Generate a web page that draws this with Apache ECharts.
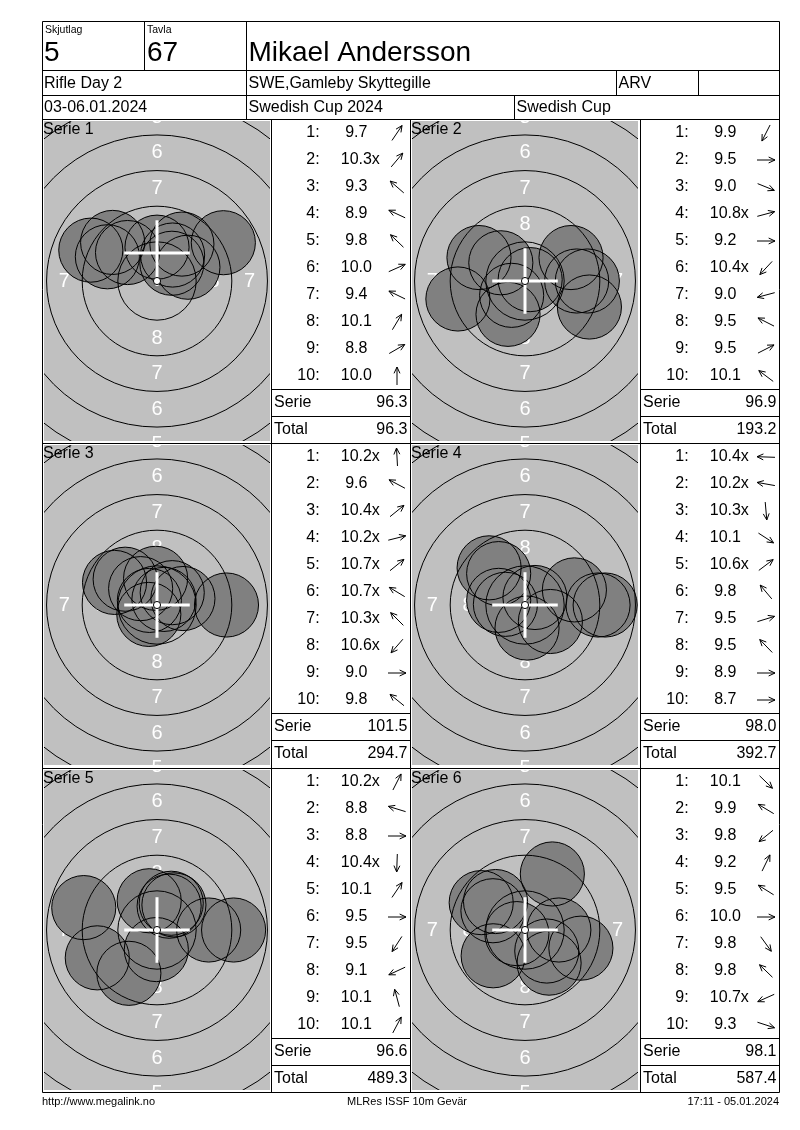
<!DOCTYPE html>
<html><head><meta charset="utf-8">
<script src="https://cdn.jsdelivr.net/npm/echarts@6/dist/echarts.min.js"></script>
<style>html,body{margin:0;padding:0;background:#fff}#c{width:800px;height:1130px}</style>
</head><body><div id="c"></div>
<script>
// ================= DATA =================
const serieNames = ['Serie 1', 'Serie 2', 'Serie 3', 'Serie 4', 'Serie 5', 'Serie 6'];
const shotNumbers = [1, 2, 3, 4, 5, 6, 7, 8, 9, 10];

const serie1Scores = [9.7, 10.3, 9.3, 8.9, 9.8, 10.0, 9.4, 10.1, 8.8, 10.0];
const serie1Inner  = [0, 1, 0, 0, 0, 0, 0, 0, 0, 0];
const serie1Angles = [56, 50, 139, 155, 136, 24, 154, 59, 30, 90];

const serie2Scores = [9.9, 9.5, 9.0, 10.8, 9.2, 10.4, 9.0, 9.5, 9.5, 10.1];
const serie2Inner  = [0, 0, 0, 1, 0, 1, 0, 0, 0, 0];
const serie2Angles = [243, 0, -22, 15, 0, 227, 195, 153, 27, 143];

const serie3Scores = [10.2, 9.6, 10.4, 10.2, 10.7, 10.7, 10.3, 10.6, 9.0, 9.8];
const serie3Inner  = [1, 0, 1, 1, 1, 1, 1, 1, 0, 0];
const serie3Angles = [93, 152, 39, 14, 39, 149, 135, 229, 0, 141];

const serie4Scores = [10.4, 10.2, 10.3, 10.1, 10.6, 9.8, 9.5, 9.5, 8.9, 8.7];
const serie4Inner  = [1, 1, 1, 0, 1, 0, 0, 0, 0, 0];
const serie4Angles = [178, 170, 275, 327, 37, 130, 17, 134, 0, 0];

const serie5Scores = [10.2, 8.8, 8.8, 10.4, 10.1, 9.5, 9.5, 9.1, 10.1, 10.1];
const serie5Inner  = [1, 0, 0, 1, 0, 0, 0, 0, 0, 0];
const serie5Angles = [63, 163, 0, 268, 56, 0, 237, 205, 105, 62];

const serie6Scores = [10.1, 9.9, 9.8, 9.2, 9.5, 10.0, 9.8, 9.8, 10.7, 9.3];
const serie6Inner  = [0, 0, 0, 0, 0, 0, 0, 0, 1, 0];
const serie6Angles = [316, 149, 219, 64, 148, 0, 306, 136, 204, 342];

const serieSums     = [96.3, 96.9, 101.5, 98.0, 96.6, 98.1];
const runningTotals = [96.3, 193.2, 294.7, 392.7, 489.3, 587.4];
const summaryLabels = ['Serie', 'Total'];
const crossOffsetsMm = [[0, 1.96], [0, 0], [0, 0], [0, 0], [0, 0], [0, 0]];
const ringValues = [9, 8, 7, 6, 5, 4];
const ringLabelValues = [8, 7, 6, 5];

const headerTexts = {
  squadLabel: 'Skjutlag', squad: '5', laneLabel: 'Tavla', lane: '67',
  name: 'Mikael Andersson', event: 'Rifle Day 2', club: 'SWE,Gamleby Skyttegille',
  cls: 'ARV', date: '03-06.01.2024', competition: 'Swedish Cup 2024', cup: 'Swedish Cup'
};
const footerTexts = ['http://www.megalink.no', 'MLRes ISSF 10m Gevär', '17:11 - 05.01.2024'];

const allScores = [serie1Scores, serie2Scores, serie3Scores, serie4Scores, serie5Scores, serie6Scores];
const allInner  = [serie1Inner, serie2Inner, serie3Inner, serie4Inner, serie5Inner, serie6Inner];
const allAngles = [serie1Angles, serie2Angles, serie3Angles, serie4Angles, serie5Angles, serie6Angles];

// ================= TARGET GEOMETRY (ISSF 10m air rifle, mm) =================
const TEN_RADIUS_MM = 0.25, RING_STEP_MM = 2.5, SHOT_RADIUS_MM = 2.25, CROSS_HALF_MM = 2.3;
function ringRadius(v) { return TEN_RADIUS_MM + (10 - v) * RING_STEP_MM; }
function shotDistance(score) { return (10.95 - score) * RING_STEP_MM; } // 0.1 point per 0.25 mm

// ================= LAYOUT =================
const FONT = '"Liberation Sans", Arial, Helvetica, sans-serif';
const PX_PER_MM = 14.25;
const ROW_TOP = [119.5, 443.5, 768.5];
const TARGET_LEFT = [44, 412];
const TABLE_LEFT = [272, 641];
const TARGET_W = 226, TARGET_H = 320, TABLE_W = 137, ROW_H = 27;
const COL_NUM_RIGHT = 47.6, COL_SCORE_CENTER = 84.3, COL_ARROW_CENTER = 125;
const ARROW_LEN = 18, HEAD_LEN = 7, HEAD_ANGLE = 25;

const measureCtx = document.createElement('canvas').getContext('2d');
function textWidth(t, font) { measureCtx.font = font; return measureCtx.measureText(t).width; }

const grid = [], xAxis = [], yAxis = [], series = [];
const TABLE_FONT = '16px ' + FONT;

function labelRender(params, api) {
  const v = api.value(2);
  const rr = ringRadius(v) - RING_STEP_MM / 2;
  const pts = [[0, rr], [0, -rr], [rr, 0], [-rr, 0]];
  return { type: 'group', children: pts.map(q => {
    const c = api.coord(q);
    return { type: 'text', x: c[0], y: c[1], style: { text: String(v), font: '20px ' + FONT, fill: '#ffffff', align: 'center', verticalAlign: 'middle' } };
  }) };
}
function shotFillRender(params, api) {
  const c = api.coord([api.value(0), api.value(1)]);
  const r = api.size([SHOT_RADIUS_MM, 0])[0];
  return { type: 'circle', shape: { cx: c[0], cy: c[1], r: r }, style: { fill: '#808080', stroke: 'none' } };
}
function shotLineRender(params, api) {
  const c = api.coord([api.value(0), api.value(1)]);
  const r = api.size([SHOT_RADIUS_MM, 0])[0];
  return { type: 'circle', shape: { cx: c[0], cy: c[1], r: r }, style: { fill: 'none', stroke: '#000', lineWidth: 1 } };
}
function ringRender(params, api) {
  const c = api.coord([0, 0]);
  const r = api.size([ringRadius(api.value(2)), 0])[0];
  return { type: 'circle', shape: { cx: c[0], cy: c[1], r: r }, style: { fill: 'none', stroke: '#000', lineWidth: 1 } };
}
function crossRender(params, api) {
  const c = api.coord([api.value(0), api.value(1)]);
  const L = api.size([CROSS_HALF_MM, 0])[0];
  const o = api.coord([0, 0]);
  const r10 = api.size([TEN_RADIUS_MM, 0])[0];
  return { type: 'group', children: [
    { type: 'line', shape: { x1: c[0] - L, y1: c[1], x2: c[0] + L, y2: c[1] }, style: { stroke: '#fff', lineWidth: 3 } },
    { type: 'line', shape: { x1: c[0], y1: c[1] - L, x2: c[0], y2: c[1] + L }, style: { stroke: '#fff', lineWidth: 3 } },
    { type: 'circle', shape: { cx: o[0], cy: o[1], r: r10 }, style: { fill: '#fff', stroke: '#000', lineWidth: 1 } }
  ] };
}
function tableRender(params, api) {
  const row = api.value(1), score = api.value(2), ang = api.value(3), inner = api.value(4);
  const pn = api.coord([COL_NUM_RIGHT, row]);
  const ps = api.coord([COL_SCORE_CENTER, row]);
  const pa = api.coord([COL_ARROW_CENTER, row]);
  const txt = score.toFixed(1);
  const children = [
    { type: 'text', x: pn[0], y: pn[1], style: { text: row + ':', font: TABLE_FONT, fill: '#000', align: 'right', verticalAlign: 'middle' } },
    { type: 'text', x: ps[0], y: ps[1], style: { text: txt, font: TABLE_FONT, fill: '#000', align: 'center', verticalAlign: 'middle' } }
  ];
  if (inner) {
    children.push({ type: 'text', x: ps[0] + textWidth(txt, TABLE_FONT) / 2, y: ps[1], style: { text: 'x', font: TABLE_FONT, fill: '#000', align: 'left', verticalAlign: 'middle' } });
  }
  const a = ang * Math.PI / 180, dx = Math.cos(a), dy = -Math.sin(a);
  const hx = pa[0] + dx * ARROW_LEN / 2, hy = pa[1] + dy * ARROW_LEN / 2;
  const tx = pa[0] - dx * ARROW_LEN / 2, ty = pa[1] - dy * ARROW_LEN / 2;
  const h = HEAD_ANGLE * Math.PI / 180;
  function back(s) {
    const bx = -dx, by = -dy;
    const rx = bx * Math.cos(s) - by * Math.sin(s), ry = bx * Math.sin(s) + by * Math.cos(s);
    return [hx + rx * HEAD_LEN, hy + ry * HEAD_LEN];
  }
  children.push({ type: 'polyline', shape: { points: [[tx, ty], [hx, hy]] }, style: { stroke: '#000', lineWidth: 1, fill: 'none' } });
  children.push({ type: 'polyline', shape: { points: [back(h), [hx, hy], back(-h)] }, style: { stroke: '#000', lineWidth: 1, fill: 'none' } });
  return { type: 'group', children: children };
}
function summaryRender(params, api) {
  const row = api.value(1), val = api.value(2);
  const l1 = api.coord([0, row - 0.5]), l2 = api.coord([TABLE_W, row - 0.5]);
  const pl = api.coord([2, row]), pv = api.coord([135.5, row]);
  return { type: 'group', children: [
    { type: 'line', shape: { x1: l1[0] - 0.5, y1: l1[1], x2: l2[0] + 1, y2: l2[1] }, style: { stroke: '#000', lineWidth: 1 } },
    { type: 'text', x: pl[0], y: pl[1], style: { text: summaryLabels[params.dataIndex], font: TABLE_FONT, fill: '#000', align: 'left', verticalAlign: 'middle' } },
    { type: 'text', x: pv[0], y: pv[1], style: { text: val.toFixed(1), font: TABLE_FONT, fill: '#000', align: 'right', verticalAlign: 'middle' } }
  ] };
}

for (let p = 0; p < 6; p++) {
  const r = Math.floor(p / 2), c = p % 2, T = ROW_TOP[r];
  const gi = grid.length;
  grid.push({ left: TARGET_LEFT[c], top: T + 1.5, width: TARGET_W, height: TARGET_H, show: true, backgroundColor: '#c0c0c0', borderWidth: 0, containLabel: false });
  xAxis.push({ gridIndex: gi, type: 'value', min: -TARGET_W / 2 / PX_PER_MM, max: TARGET_W / 2 / PX_PER_MM, show: false });
  yAxis.push({ gridIndex: gi, type: 'value', min: -TARGET_H / 2 / PX_PER_MM, max: TARGET_H / 2 / PX_PER_MM, show: false });
  const ti = grid.length;
  grid.push({ left: TABLE_LEFT[c], top: T, width: TABLE_W, height: 12 * ROW_H, show: false, containLabel: false });
  xAxis.push({ gridIndex: ti, type: 'value', min: 0, max: TABLE_W, show: false });
  yAxis.push({ gridIndex: ti, type: 'value', min: 0.5, max: 12.5, inverse: true, show: false });

  const scores = allScores[p], angles = allAngles[p], inner = allInner[p];
  const shots = scores.map((s, i) => {
    const d = shotDistance(s), a = angles[i] * Math.PI / 180;
    return [d * Math.cos(a), d * Math.sin(a), s];
  });
  const base = { type: 'custom', coordinateSystem: 'cartesian2d', xAxisIndex: gi, yAxisIndex: gi, clip: true, silent: true };
  series.push(Object.assign({}, base, { z: 2, data: ringLabelValues.map(v => [0, 0, v]), renderItem: labelRender }));
  series.push(Object.assign({}, base, { z: 3, data: shots, renderItem: shotFillRender }));
  series.push(Object.assign({}, base, { z: 4, data: shots, renderItem: shotLineRender }));
  series.push(Object.assign({}, base, { z: 5, data: ringValues.map(v => [0, 0, v]), renderItem: ringRender }));
  series.push(Object.assign({}, base, { z: 6, data: [crossOffsetsMm[p]], renderItem: crossRender }));

  const tbase = { type: 'custom', coordinateSystem: 'cartesian2d', xAxisIndex: ti, yAxisIndex: ti, silent: true, z: 6 };
  series.push(Object.assign({}, tbase, { data: shotNumbers.map((n, i) => [0, n, scores[i], angles[i], inner[i]]), renderItem: tableRender }));
  series.push(Object.assign({}, tbase, { data: [[0, 11, serieSums[p]], [0, 12, runningTotals[p]]], renderItem: summaryRender }));
}

// ================= FRAME (graphic) =================
const g = [];
function hl(y, x1, x2) { g.push({ type: 'line', shape: { x1: x1, y1: y, x2: x2, y2: y }, style: { stroke: '#000', lineWidth: 1 }, z: 100 }); }
function vl(x, y1, y2) { g.push({ type: 'line', shape: { x1: x, y1: y1, x2: x, y2: y2 }, style: { stroke: '#000', lineWidth: 1 }, z: 100 }); }
function tx(t, x, y, size, align) { g.push({ type: 'text', x: x, y: y, style: { text: t, font: size + 'px ' + FONT, fill: '#000', align: align || 'left', verticalAlign: 'middle' }, z: 100 }); }
const L = 42.5, R = 779.5, B = 1092.5;
[21.5, 70.5, 95.5, 119.5, 443.5, 768.5, B].forEach(y => hl(y, L, R));
vl(L, 21.5, B); vl(R, 21.5, B);
vl(144.5, 21.5, 70.5); vl(246.5, 21.5, 119.5);
vl(616.5, 70.5, 95.5); vl(698.5, 70.5, 95.5);
vl(514.5, 95.5, 119.5);
vl(271.5, 119.5, B); vl(410.5, 119.5, B); vl(640.5, 119.5, B);

tx(headerTexts.squadLabel, 45, 30, 10.5);
tx(headerTexts.laneLabel, 147, 30, 10.5);
tx(headerTexts.squad, 44, 53, 28);
tx(headerTexts.lane, 147, 53, 28);
tx(headerTexts.name, 248.5, 53, 28);
tx(headerTexts.event, 44, 84, 16);
tx(headerTexts.club, 248.5, 84, 16);
tx(headerTexts.cls, 618.5, 84, 16);
tx(headerTexts.date, 44, 108, 16);
tx(headerTexts.competition, 248.5, 108, 16);
tx(headerTexts.cup, 516.5, 108, 16);
for (let p = 0; p < 6; p++) {
  tx(serieNames[p], TARGET_LEFT[p % 2] - 1, ROW_TOP[Math.floor(p / 2)] + 10.5, 16);
}
tx(footerTexts[0], 42, 1102, 11, 'left');
tx(footerTexts[1], 407, 1102, 11, 'center');
tx(footerTexts[2], 779, 1102, 11, 'right');

const chart = echarts.init(document.getElementById('c'), null, { renderer: 'canvas' });
chart.setOption({
  animation: false,
  backgroundColor: '#ffffff',
  grid: grid, xAxis: xAxis, yAxis: yAxis, series: series,
  graphic: { elements: g }
});
</script></body></html>
